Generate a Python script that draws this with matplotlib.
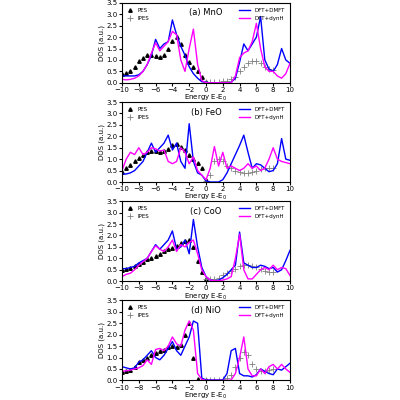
import numpy as np
import matplotlib
matplotlib.use("Agg")
import matplotlib.pyplot as plt

titles = ["(a) MnO", "(b) FeO", "(c) CoO", "(d) NiO"]
x_pes = [-10 + 0.5 * i for i in range(21)]
x_ipes = [0.5 * i for i in range(17)]
x_th = [-10 + 0.5 * i for i in range(41)]

pes = [
    [0.4,0.42,0.5,0.7,0.95,1.1,1.2,1.2,1.18,1.15,1.2,1.5,1.85,2.0,1.7,1.2,0.9,0.7,0.5,0.25,0.05],
    [0.45,0.6,0.75,0.9,1.05,1.2,1.3,1.35,1.35,1.3,1.35,1.45,1.6,1.65,1.55,1.4,1.2,1.0,0.85,0.6,0.1],
    [0.5,0.52,0.58,0.65,0.75,0.85,0.95,1.02,1.1,1.2,1.3,1.4,1.45,1.55,1.65,1.75,1.8,1.5,0.9,0.4,0.1],
    [0.35,0.4,0.45,0.6,0.8,0.9,1.0,1.1,1.2,1.3,1.35,1.45,1.5,1.45,1.55,2.0,2.5,1.0,0.05,0.02,0.02],
]
ipes = [
    [0.02,0.02,0.03,0.05,0.07,0.1,0.15,0.25,0.5,0.7,0.85,0.95,0.95,0.85,0.7,0.6,0.55],
    [0.05,0.3,0.9,1.0,0.9,0.7,0.6,0.5,0.45,0.4,0.4,0.45,0.5,0.55,0.6,0.6,0.6],
    [0.1,0.08,0.1,0.15,0.25,0.35,0.45,0.55,0.65,0.7,0.72,0.68,0.6,0.52,0.45,0.42,0.42],
    [0.02,0.02,0.02,0.03,0.05,0.1,0.25,0.6,1.0,1.25,1.1,0.7,0.5,0.4,0.4,0.45,0.5],
]
dmft = [
    [0.3,0.3,0.3,0.3,0.35,0.5,0.8,1.2,1.9,1.5,1.7,1.8,2.75,2.1,1.6,1.2,0.7,0.4,0.2,0.05,0.02,
     0.0,0.0,0.0,0.0,0.0,0.02,0.2,0.9,1.7,1.4,1.7,2.0,2.9,1.0,0.6,0.5,0.8,1.5,1.0,0.85],
    [0.35,0.35,0.4,0.5,0.7,0.9,1.3,1.7,1.3,1.5,1.7,2.05,1.4,1.7,0.9,0.6,2.55,0.9,0.4,0.3,0.05,
     0.0,0.0,0.0,0.1,0.4,0.8,1.2,1.6,2.05,1.3,0.6,0.8,0.75,0.6,0.45,0.5,0.8,1.9,1.0,0.95],
    [0.55,0.55,0.6,0.65,0.8,0.9,1.0,1.3,1.6,1.4,1.6,1.8,2.2,1.4,1.5,1.8,1.2,2.7,1.5,0.6,0.2,
     0.05,0.02,0.05,0.15,0.3,0.5,0.7,2.15,0.8,0.7,0.6,0.6,0.7,0.65,0.55,0.6,0.4,0.5,0.9,1.35],
    [0.6,0.55,0.5,0.55,0.8,0.9,1.1,1.3,1.0,0.9,1.1,1.4,1.7,1.3,1.1,1.5,1.9,2.6,2.5,0.1,0.02,
     0.02,0.02,0.02,0.02,0.3,1.3,1.4,0.3,0.2,0.2,0.15,0.25,0.5,0.4,0.3,0.25,0.5,0.45,0.6,0.75],
]
dynh = [
    [0.15,0.13,0.15,0.2,0.3,0.5,0.8,1.3,1.75,1.4,1.6,1.8,2.25,2.1,1.0,0.5,1.5,2.35,0.8,0.1,0.0,
     0.0,0.0,0.0,0.0,0.0,0.0,0.3,1.1,1.3,1.4,1.8,2.6,1.5,0.7,0.5,0.5,0.3,0.2,0.4,0.85],
    [0.5,1.0,1.3,1.2,1.5,1.2,1.3,1.5,1.45,1.35,1.4,0.9,0.8,0.9,1.5,1.3,0.8,1.1,0.5,0.3,0.1,
     0.6,1.55,0.7,1.3,0.6,0.7,0.6,0.5,0.6,0.8,0.6,0.7,0.5,0.6,1.0,1.5,1.0,0.9,0.85,0.8],
    [0.2,0.3,0.35,0.5,0.7,0.85,1.0,1.3,1.55,1.4,1.3,1.5,1.8,1.3,1.6,1.5,1.7,1.8,1.2,0.5,0.2,
     0.05,0.02,0.02,0.05,0.1,0.2,1.0,2.05,0.5,0.1,0.1,0.3,0.5,0.6,0.5,0.7,0.5,0.6,0.55,0.25],
    [0.4,0.42,0.45,0.5,0.55,0.65,0.9,0.7,1.35,1.4,1.3,1.5,1.9,1.6,1.5,2.2,2.6,2.2,0.3,0.05,0.0,
     0.0,0.0,0.0,0.0,0.0,0.02,0.3,1.0,1.9,0.5,0.2,0.2,0.5,0.3,0.6,0.7,0.5,0.7,0.5,0.35],
]

fig = plt.figure(figsize=(4, 4), dpi=100)
for i in range(4):
    top = 0.993 - i * 0.248
    ax = fig.add_axes([0.305, top - 0.2, 0.42, 0.2])
    ax.plot(x_pes, pes[i], linestyle='none', marker='^', color='black', ms=2.5, label='PES')
    ax.plot(x_ipes, ipes[i], linestyle='none', marker='+', color='gray', ms=4, mew=0.6, label='IPES')
    ax.plot(x_th, dmft[i], color='blue', lw=1, label='DFT+DMFT')
    ax.plot(x_th, dynh[i], color='magenta', lw=1, label='DFT+dynH')
    ax.set_xlim(-10, 10)
    ax.set_ylim(0, 3.5)
    ax.set_xticks(range(-10, 11, 2))
    ax.set_yticks([0, 0.5, 1, 1.5, 2, 2.5, 3, 3.5])
    ax.tick_params(labelsize=5, length=2, pad=1)
    ax.set_ylabel('DOS (a.u.)', fontsize=5, labelpad=1)
    ax.set_xlabel('Energy E-E$_0$', fontsize=5, labelpad=0)
    ax.text(0.5, 0.93, titles[i], transform=ax.transAxes, ha='center', va='top', fontsize=6)
    h, lab = ax.get_legend_handles_labels()
    leg1 = ax.legend(h[:2], lab[:2], loc='upper left', fontsize=4, frameon=False, handlelength=1)
    ax.add_artist(leg1)
    ax.legend(h[2:], lab[2:], loc='upper right', fontsize=4, frameon=False, handlelength=2)
fig.savefig('out.png', dpi=100)
